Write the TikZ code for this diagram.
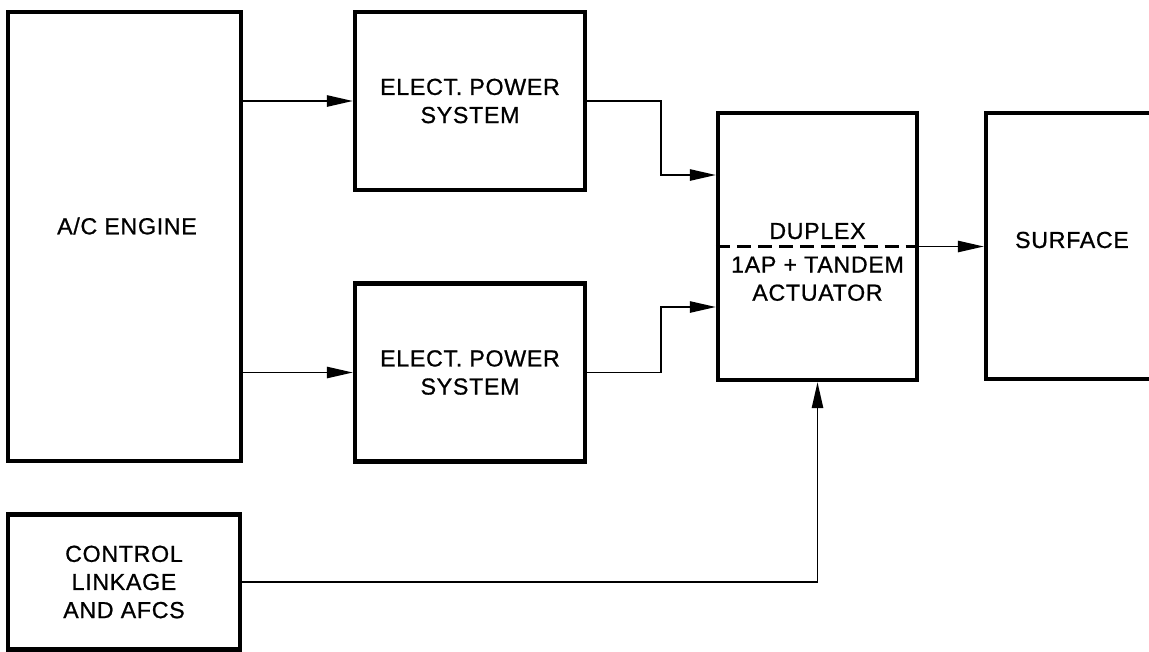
\documentclass[tikz,border=0pt]{standalone}
\usepackage{fontspec}
\setmainfont{Liberation Sans}
\newfontfamily\boxfont{Liberation Sans}[LetterSpace=3, FakeBold=0.8]
\usetikzlibrary{arrows.meta}

\begin{document}
\begin{tikzpicture}[
  x=0.25mm, y=-0.25mm,
  lbl/.style={align=center, inner sep=0pt, font=\boxfont\fontsize{16.5}{20}\selectfont},
  box/.style={lbl, draw, line width=3pt},
  arrow/.style={-{Triangle[length=6.5mm, width=2.8mm]}, line width=1.4pt},
  wire/.style={line width=1.8pt},
]
  \path[use as bounding box, clip] (0,0) rectangle (1149,651);
  \fill[white] (0,0) rectangle (1149,651);
  \node[box, minimum width=58.25mm, minimum height=112.25mm] (engine) at (124.5,236.5) {};
  \node[box, minimum width=57.5mm, minimum height=44.5mm] (etop) at (470,101) {ELECT. POWER\\SYSTEM};
  \node[box, minimum width=57.5mm, minimum height=44.5mm] (ebot) at (470,372.5) {ELECT. POWER\\SYSTEM};
  \node[box, minimum width=49.75mm, minimum height=66.75mm] (duplex) at (817.5,246.5) {};
  \node[box, minimum width=49.75mm, minimum height=66.5mm] (surface) at (1085.5,246) {};
  \node[box, minimum width=58mm, minimum height=33.75mm] (control) at (124,582) {CONTROL\\LINKAGE\\AND AFCS};
  \node[lbl] (etitle) at (127,226) {A/C ENGINE};
  \node[lbl] (stitle) at (1072,240) {SURFACE};
  \node[lbl, above=5pt] (dtitle) at (duplex.center) {DUPLEX};
  \node[lbl, below=7pt] (dbody) at (duplex.center) {1AP + TANDEM\\ACTUATOR};
  \coordinate (jtop) at (661,175);
  \coordinate (jbot) at (661,307);
  \draw[wire, dash pattern=on 10pt off 5pt] (duplex.west) -- (duplex.east);
  \draw[arrow] (engine.east |- etop.west) -- (etop.west);
  \draw[arrow] (engine.east |- ebot.west) -- (ebot.west);
  \draw[arrow] (etop.east) -| (jtop) -- (duplex.west |- jtop);
  \draw[arrow] (ebot.east) -| (jbot) -- (duplex.west |- jbot);
  \draw[arrow] (duplex.east) -- (surface.west |- duplex.east);
  \draw[arrow] (control.east) -| (duplex.south);
\end{tikzpicture}
\end{document}
